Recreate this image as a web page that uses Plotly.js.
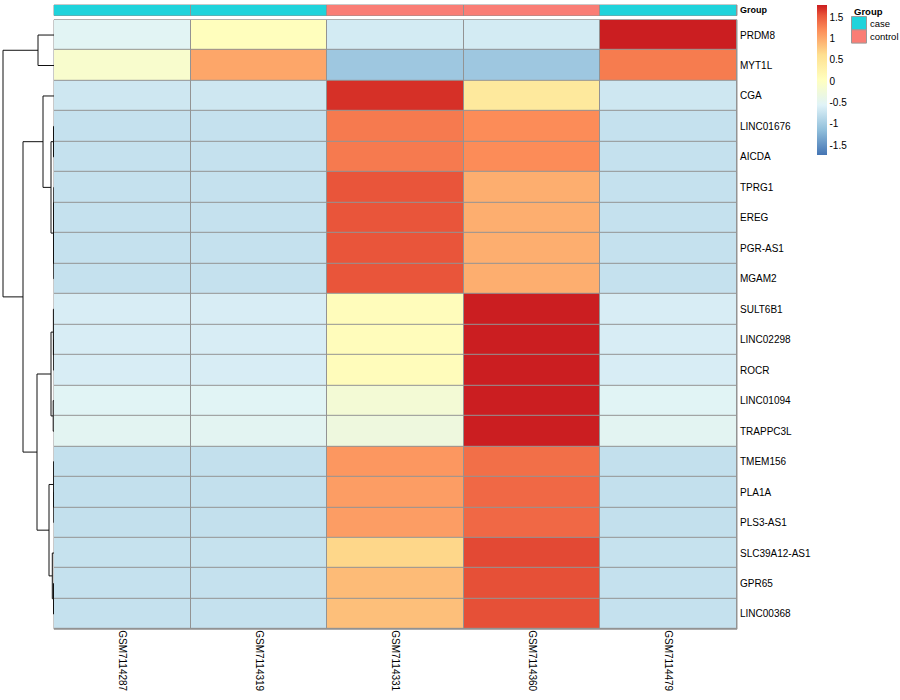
<!DOCTYPE html>
<html><head><meta charset="utf-8">
<script src="https://cdn.plot.ly/plotly-3.0.1.min.js"></script>
<style>html,body{margin:0;padding:0;background:#fff}#chart{width:900px;height:700px}</style>
</head><body><div id="chart"></div>
<script>
// ---------------- data ----------------
const samples = ['GSM7114287','GSM7114319','GSM7114331','GSM7114360','GSM7114479'];
const groups  = ['case','case','control','control','case'];
const groupLevels = ['case','control'];
const genes = ['PRDM8','MYT1L','CGA','LINC01676','AICDA','TPRG1','EREG','PGR-AS1','MGAM2',
  'SULT6B1','LINC02298','ROCR','LINC01094','TRAPPC3L','TMEM156','PLA1A','PLS3-AS1',
  'SLC39A12-AS1','GPR65','LINC00368'];
// row-scaled expression (z-scores), rows = genes, columns = samples
const zPRDM8      = [-0.52, 0.05, -0.65, -0.65, 1.79];
const zMYT1L      = [-0.11, 1.03, -1.05, -1.05, 1.31];
const zCGA        = [-0.69, -0.69, 1.70, 0.45, -0.69];
const zLINC01676  = [-0.76, -0.76, 1.32, 1.21, -0.76];
const zAICDA      = [-0.76, -0.76, 1.32, 1.21, -0.76];
const zTPRG1      = [-0.76, -0.76, 1.55, 0.97, -0.76];
const zEREG       = [-0.76, -0.76, 1.55, 0.97, -0.76];
const zPGRAS1     = [-0.76, -0.76, 1.55, 0.97, -0.76];
const zMGAM2      = [-0.76, -0.76, 1.55, 0.97, -0.76];
const zSULT6B1    = [-0.62, -0.62, 0.08, 1.79, -0.62];
const zLINC02298  = [-0.62, -0.62, 0.08, 1.79, -0.62];
const zROCR       = [-0.62, -0.62, 0.08, 1.79, -0.62];
const zLINC01094  = [-0.53, -0.53, -0.20, 1.79, -0.53];
const zTRAPPC3L   = [-0.50, -0.50, -0.29, 1.79, -0.50];
const zTMEM156    = [-0.77, -0.77, 1.13, 1.39, -0.77];
const zPLA1A      = [-0.77, -0.77, 1.09, 1.43, -0.77];
const zPLS3AS1    = [-0.77, -0.77, 1.09, 1.43, -0.77];
const zSLC39A12   = [-0.75, -0.75, 0.68, 1.60, -0.75];
const zGPR65      = [-0.76, -0.76, 0.88, 1.57, -0.76];
const zLINC00368  = [-0.76, -0.76, 0.85, 1.57, -0.76];
const zRows = [zPRDM8,zMYT1L,zCGA,zLINC01676,zAICDA,zTPRG1,zEREG,zPGRAS1,zMGAM2,
  zSULT6B1,zLINC02298,zROCR,zLINC01094,zTRAPPC3L,zTMEM156,zPLA1A,zPLS3AS1,
  zSLC39A12,zGPR65,zLINC00368];
// row dendrogram (hclust style: negative = leaf number, positive = merge step)
const dendroMerge = [
  [-16,-17],[-6,-7],[-8,-9],[-11,-12],[-15,1],[-4,-5],[2,3],[-19,-20],[-10,4],[-13,-14],
  [-18,8],[6,7],[9,10],[5,11],[-3,12],[-1,-2],[13,14],[15,17],[16,18]
];
const dendroHeight = [0.02,0.02,0.02,0.03,0.04,0.05,0.05,0.05,0.06,0.08,
  0.17,0.3,0.3,0.5,1.1,1.6,1.7,3.1,5.1];
const legendTicks = [-1.5,-1,-0.5,0,0.5,1,1.5];
const zMin = -1.73, zMax = 1.79;

// ---------------- build ----------------
const W = 900, H = 700;
const px = v => v / W, py = v => 1 - v / H;
const hmLeft = 54, hmRight = 737, hmTop = 19.8, hmBottom = 629.2;
const anTop = 5, anBottom = 15.5;

const stops = [[-1.73,'#4575B4'],[-1.143,'#91BFDB'],[-0.557,'#E0F3F8'],[0.03,'#FFFFBF'],
  [0.617,'#FEE090'],[1.203,'#FC8D59'],[1.55,'#E9553A'],[1.70,'#D63027'],[1.79,'#CB1E21']];
const colorscale = stops.map(s => [(s[0]-zMin)/(zMax-zMin), s[1]]);

const caseCol = '#1FD3DB', ctrlCol = '#FA7D75';

// dendrogram segments
const dx = [], dy = [];
const nodeY = [], nodeH = [];
function childPos(c){ return c < 0 ? [ -c-1, 0 ] : [ nodeY[c-1], nodeH[c-1] ]; }
dendroMerge.forEach((m,i) => {
  const a = childPos(m[0]), b = childPos(m[1]);
  const h = dendroHeight[i];
  dx.push(a[1], h, h, b[1], null);
  dy.push(a[0], a[0], b[0], b[0], null);
  nodeY.push((a[0]+b[0])/2); nodeH.push(h);
});

const colIdx = samples.map((s,i) => i);
const rowIdx = genes.map((g,i) => i);

const traces = [
  {
    type:'heatmap', x: colIdx, y: rowIdx, z: zRows,
    zmin: zMin, zmax: zMax, colorscale: colorscale,
    xgap: 1, ygap: 1, hoverinfo:'skip',
    xaxis:'x', yaxis:'y',
    colorbar: {
      x: px(817), xanchor:'left', xpad:0, ypad:0,
      y: py(5), yanchor:'top', len: 150/H, lenmode:'fraction',
      thickness: 10, thicknessmode:'pixels', outlinewidth:0,
      tickvals: legendTicks, ticktext: legendTicks.map(String),
      ticks:'', ticklen:0,
      tickfont:{family:'Liberation Sans, Arial, sans-serif', size:10, color:'#000'}
    }
  },
  {
    type:'heatmap', x: colIdx, y:[0],
    z: [groups.map(g => groupLevels.indexOf(g))],
    zmin:0, zmax:1, showscale:false, xgap:1, ygap:0, hoverinfo:'skip',
    colorscale: [[0,caseCol],[0.5,caseCol],[0.5,ctrlCol],[1,ctrlCol]],
    xaxis:'x', yaxis:'y3'
  },
  {
    type:'scatter', mode:'lines', x: dx, y: dy, xaxis:'x2', yaxis:'y',
    line:{color:'#111', width:1}, hoverinfo:'skip', showlegend:false
  }
];

const font = {family:'Liberation Sans, Arial, sans-serif', size:10, color:'#000'};
const shapes = [
  {type:'rect', xref:'x domain', yref:'y domain', x0:0, x1:1, y0:0, y1:1,
   fillcolor:'#939393', line:{color:'#939393', width:1}, layer:'below'},
  {type:'rect', xref:'x domain', yref:'y3 domain', x0:0, x1:1, y0:0, y1:1,
   fillcolor:'#939393', line:{color:'#939393', width:1}, layer:'below'}
];
const annotations = [
  {xref:'paper', yref:'paper', x: px(851.5), y: py(4), xanchor:'left', yanchor:'top',
   text:'<b>Group</b>', showarrow:false, font:{...font, size:9.5}}
];
groupLevels.forEach((g,i) => {
  const top = 16.5 + i*13.3, bot = top + 13.3;
  shapes.push({type:'rect', xref:'paper', yref:'paper', x0:px(851.5), x1:px(866.5),
    y0:py(bot), y1:py(top), fillcolor: i===0?caseCol:ctrlCol, line:{color:'#999', width:1}});
  annotations.push({xref:'paper', yref:'paper', x:px(868), y:py((top+bot)/2),
    xanchor:'left', yanchor:'middle', text:g, showarrow:false, font:{...font, size:9.5}});
});

const layout = {
  width: W, height: H, margin:{l:0,r:0,t:0,b:0,pad:0},
  paper_bgcolor:'#fff', plot_bgcolor:'rgba(0,0,0,0)',
  font: font, showlegend:false,
  xaxis: {domain:[px(hmLeft), px(hmRight)], range:[-0.5, samples.length-0.5],
    tickvals: colIdx, ticktext: samples, tickangle: 90, ticks:'', showgrid:false,
    zeroline:false, showline:false, anchor:'y', tickfont:font, fixedrange:true},
  yaxis: {domain:[py(hmBottom), py(hmTop)], range:[genes.length-0.5, -0.5],
    tickvals: rowIdx, ticktext: genes, side:'right', ticks:'', showgrid:false,
    zeroline:false, showline:false, anchor:'x', tickfont:font, fixedrange:true,
    ticklabelstandoff: 2},
  yaxis3: {domain:[py(anBottom), py(anTop)], range:[-0.5,0.5], tickvals:[0],
    ticktext:['<b>Group</b>'], side:'right', ticks:'', showgrid:false, zeroline:false,
    anchor:'x', tickfont:{...font, size:9}, fixedrange:true, ticklabelstandoff: 2},
  xaxis2: {domain:[0, px(hmLeft)], range:[5.4, 0], visible:false, anchor:'y',
    showgrid:false, zeroline:false, fixedrange:true},
  shapes: shapes, annotations: annotations
};

Plotly.newPlot('chart', traces, layout, {displayModeBar:false, staticPlot:true});
</script>
</body></html>
